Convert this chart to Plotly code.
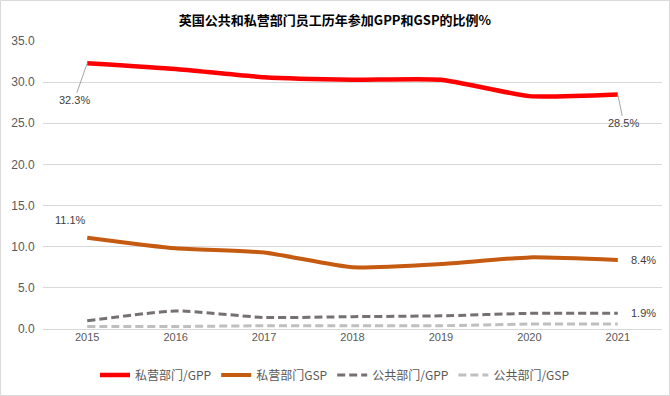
import plotly.graph_objects as go

years = ["2015", "2016", "2017", "2018", "2019", "2020", "2021"]
private_gpp = [32.3, 31.6, 30.6, 30.3, 30.3, 28.3, 28.5]
private_gsp = [11.1, 9.8, 9.3, 7.5, 7.9, 8.7, 8.4]
public_gpp = [1.0, 2.2, 1.4, 1.5, 1.6, 1.9, 1.9]
public_gsp = [0.3, 0.3, 0.4, 0.4, 0.4, 0.6, 0.6]
names = ["私营部门/GPP", "私营部门GSP", "公共部门/GPP", "公共部门/GSP"]
title = "英国公共和私营部门员工历年参加GPP和GSP的比例%"

W, H = 670, 396
L, R, T, B = 43, 8, 41, 67
pw, ph = W - L - R, H - T - B

fig = go.Figure()
styles = [
    (private_gpp, "#FF0000", 4.5, "solid"),
    (private_gsp, "#C55A11", 4, "solid"),
    (public_gpp, "#767171", 3, "8px,4px"),
    (public_gsp, "#BFBFBF", 3, "8px,4px"),
]
for (vals, col, w, dash), nm in zip(styles, names):
    fig.add_trace(go.Scatter(
        x=years, y=vals, name=nm, mode="lines",
        line=dict(color=col, width=w, dash=dash, shape="spline", smoothing=0.5),
    ))

first, last = 0, len(years) - 1  # category indices
lab_font = dict(family="Liberation Sans, Arial", size=11, color="#404040")
annos = [
    dict(x=first, y=private_gpp[first], text=f"{private_gpp[first]}%", showarrow=True,
         arrowhead=0, arrowwidth=1, arrowcolor="#A6A6A6", ax=-13, ay=37, font=lab_font),
    dict(x=last, y=private_gpp[last], text=f"{private_gpp[last]}%", showarrow=True,
         arrowhead=0, arrowwidth=1, arrowcolor="#A6A6A6", ax=6, ay=29, font=lab_font),
    dict(x=first, y=private_gsp[first], text=f"{private_gsp[first]}%", showarrow=False,
         xshift=-17, yshift=18, font=lab_font),
    dict(x=last, y=private_gsp[last], text=f"{private_gsp[last]}%", showarrow=False,
         xanchor="left", xshift=11, font=lab_font),
    dict(x=last, y=public_gpp[last], text=f"{public_gpp[last]}%", showarrow=False,
         xanchor="left", xshift=11, font=lab_font),
]

shapes = [dict(type="rect", xref="paper", yref="paper",
               x0=(0.5 - L) / pw, x1=(W - 0.5 - L) / pw,
               y0=-(B - 0.5) / ph, y1=1 + (T - 0.5) / ph,
               line=dict(color="#D9D9D9", width=1), layer="below")]

fig.update_layout(
    width=W, height=H,
    margin=dict(l=L, r=R, t=T, b=B, autoexpand=False),
    paper_bgcolor="white", plot_bgcolor="white",
    annotations=annos, shapes=shapes,
    title=dict(text=title, x=0.5, xref="container", y=1 - 20 / H, yref="container",
               yanchor="middle",
               font=dict(family="Noto Sans CJK SC", size=13, color="#000000", weight="bold")),
    xaxis=dict(type="category", showgrid=False, zeroline=False, showline=False, ticks="",
               automargin=False,
               tickfont=dict(family="Liberation Sans, Arial", size=11, color="#595959"),
               range=[-0.5, 6.5]),
    yaxis=dict(range=[0, 35], dtick=5, tickformat=".1f", showgrid=True, gridcolor="#D9D9D9",
               gridwidth=1, zeroline=True, zerolinecolor="#D9D9D9", zerolinewidth=1,
               showline=False, ticks="outside", ticklen=5, tickcolor="rgba(0,0,0,0)",
               automargin=False,
               tickfont=dict(family="Liberation Sans, Arial", size=12, color="#595959")),
    legend=dict(orientation="h", x=0.5, xanchor="center", xref="container",
                y=1 - 375 / H, yref="container", yanchor="middle",
                font=dict(family="Noto Sans CJK SC", size=12, color="#595959"),
                itemwidth=30, tracegroupgap=0),
    showlegend=True,
)

fig.write_html("out.html", config={"displayModeBar": False},
               post_script="document.body.style.margin='0';")
